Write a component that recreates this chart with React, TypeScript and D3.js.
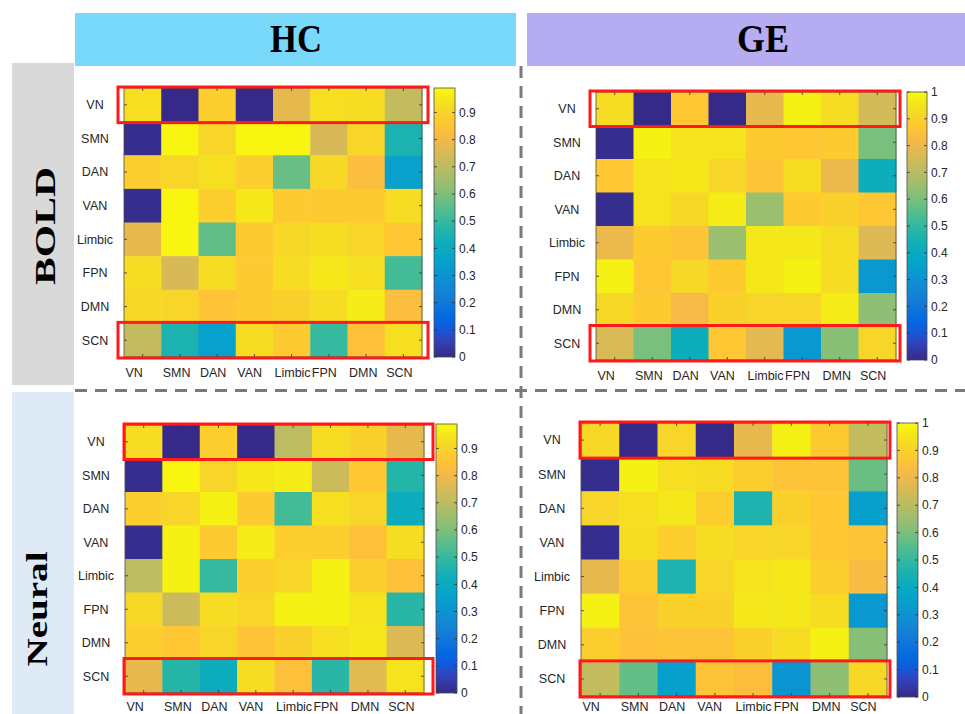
import React from "react";
import * as d3 from "d3";

const networks = ["VN", "SMN", "DAN", "VAN", "Limbic", "FPN", "DMN", "SCN"];
const groups = ["HC", "GE"];
const modalities = ["BOLD", "Neural"];
const ticksHC = [0, 0.1, 0.2, 0.3, 0.4, 0.5, 0.6, 0.7, 0.8, 0.9];
const ticksGE = [0, 0.1, 0.2, 0.3, 0.4, 0.5, 0.6, 0.7, 0.8, 0.9, 1];
const highlightRows = ["VN", "SCN"];

const hcBold = [
  [0.93, 0.0, 0.88, 0.0, 0.78, 0.93, 0.92, 0.71],
  [0.01, 0.98, 0.9, 0.98, 0.98, 0.75, 0.9, 0.45],
  [0.88, 0.9, 0.93, 0.88, 0.57, 0.91, 0.83, 0.35],
  [0.01, 0.98, 0.88, 0.95, 0.87, 0.87, 0.87, 0.92],
  [0.78, 0.98, 0.56, 0.87, 0.91, 0.92, 0.9, 0.86],
  [0.92, 0.75, 0.92, 0.87, 0.92, 0.95, 0.93, 0.52],
  [0.91, 0.9, 0.85, 0.87, 0.89, 0.92, 0.96, 0.83],
  [0.71, 0.45, 0.35, 0.92, 0.87, 0.5, 0.84, 0.93],
];
const geBold = [
  [0.93, 0.0, 0.87, 0.0, 0.79, 0.98, 0.93, 0.75],
  [0.01, 0.98, 0.95, 0.95, 0.88, 0.87, 0.88, 0.6],
  [0.87, 0.95, 0.96, 0.91, 0.86, 0.93, 0.8, 0.42],
  [0.01, 0.95, 0.92, 0.97, 0.65, 0.88, 0.9, 0.87],
  [0.8, 0.88, 0.86, 0.65, 0.96, 0.96, 0.93, 0.77],
  [0.98, 0.87, 0.92, 0.88, 0.96, 0.98, 0.93, 0.32],
  [0.92, 0.88, 0.82, 0.9, 0.91, 0.91, 0.97, 0.63],
  [0.76, 0.6, 0.42, 0.87, 0.78, 0.32, 0.62, 0.91],
];
const hcNeural = [
  [0.92, 0.0, 0.88, 0.0, 0.7, 0.92, 0.89, 0.78],
  [0.01, 0.98, 0.9, 0.95, 0.96, 0.73, 0.86, 0.47],
  [0.88, 0.9, 0.97, 0.87, 0.52, 0.93, 0.9, 0.41],
  [0.01, 0.97, 0.87, 0.96, 0.88, 0.88, 0.84, 0.92],
  [0.7, 0.97, 0.5, 0.88, 0.9, 0.97, 0.88, 0.84],
  [0.91, 0.73, 0.92, 0.9, 0.97, 0.97, 0.94, 0.48],
  [0.88, 0.86, 0.9, 0.85, 0.89, 0.93, 0.95, 0.76],
  [0.78, 0.47, 0.41, 0.92, 0.84, 0.48, 0.77, 0.94],
];
const geNeural = [
  [0.92, 0.0, 0.91, 0.0, 0.79, 0.98, 0.88, 0.72],
  [0.01, 0.98, 0.94, 0.93, 0.89, 0.86, 0.86, 0.58],
  [0.91, 0.94, 0.96, 0.89, 0.46, 0.9, 0.87, 0.35],
  [0.01, 0.93, 0.89, 0.93, 0.91, 0.91, 0.87, 0.86],
  [0.79, 0.89, 0.46, 0.91, 0.95, 0.96, 0.89, 0.83],
  [0.98, 0.86, 0.9, 0.9, 0.96, 0.96, 0.93, 0.32],
  [0.89, 0.85, 0.86, 0.86, 0.9, 0.93, 0.98, 0.62],
  [0.72, 0.57, 0.35, 0.86, 0.84, 0.31, 0.63, 0.92],
];

// parula colormap anchors (index out of 63)
const parulaIdx = [0, 4, 7, 9, 12, 15, 18, 21, 24, 27, 30, 33, 36, 39, 42, 45, 48, 51, 53, 55, 57, 59, 61, 63];
const parulaHex = [
  "#352a87", "#3243ba", "#0f5cdd", "#0268e1", "#0d75dc", "#1481d6", "#108ed2", "#079ccf",
  "#06a7c6", "#0faeb9", "#25b5a9", "#42bb98", "#65be86", "#87bf77", "#a5be6b", "#c0bc60",
  "#d9ba56", "#f1b94a", "#fdbe3d", "#fec832", "#f9d32a", "#f5de21", "#f5eb18", "#f9fb0e",
];
const parula = d3
  .scaleLinear<string>()
  .domain(parulaIdx.map((i) => i / 63))
  .range(parulaHex)
  .interpolate(d3.interpolateRgb)
  .clamp(true);

const panels = [
  { id: "hcb", data: hcBold, gx0: 124, gx1: 422, gy0: 88, gy1: 357, cbx: 434, cbw: 21, cy0: 88, cy1: 357, cmax: 0.99, ticks: ticksHC, padL: 6, padR: 6 },
  { id: "geb", data: geBold, gx0: 596, gx1: 896, gy0: 92, gy1: 360, cbx: 907, cbw: 20, cy0: 92, cy1: 360, cmax: 1, ticks: ticksGE, padL: 6, padR: 4 },
  { id: "hcn", data: hcNeural, gx0: 125, gx1: 424, gy0: 425, gy1: 693, cbx: 436, cbw: 21, cy0: 424, cy1: 693, cmax: 0.99, ticks: ticksHC, padL: 1, padR: 9 },
  { id: "gen", data: geNeural, gx0: 581, gx1: 887, gy0: 423, gy1: 696, cbx: 897, cbw: 21, cy0: 423, cy1: 697, cmax: 1, ticks: ticksGE, padL: 1, padR: 3 },
];

const sans = "'Liberation Sans', Arial, Helvetica, sans-serif";
const serif = "'Liberation Serif', 'Times New Roman', serif";
const fmt = (v: number) => (v === 0 ? "0" : v === 1 ? "1" : v.toFixed(1));

function Heatmap({ p }: { p: (typeof panels)[number] }) {
  const x = d3.scaleBand<string>().domain(networks).range([p.gx0, p.gx1]);
  const y = d3.scaleBand<string>().domain(networks).range([p.gy0, p.gy1]);
  const c = d3.scaleLinear().domain([0, p.cmax]).range([0, 1]).clamp(true);
  const cb = d3.scaleLinear().domain([0, p.cmax]).range([p.cy1, p.cy0]);
  const gradId = "grad-" + p.id;
  const xLabelY = Math.min(p.gy1 + 19.5, 710.5);
  return (
    <g>
      <defs>
        <linearGradient id={gradId} x1="0" y1="1" x2="0" y2="0">
          {parulaIdx.map((i, k) => (
            <stop key={k} offset={i / 63} stopColor={parulaHex[k]} />
          ))}
        </linearGradient>
      </defs>
      {p.data.map((row, ri) =>
        row.map((v, ci) => (
          <rect
            key={ri + "-" + ci}
            x={x(networks[ci])!}
            y={y(networks[ri])!}
            width={x.bandwidth() + 0.5}
            height={y.bandwidth() + 0.5}
            fill={parula(c(v))}
          />
        ))
      )}
      <rect x={p.gx0} y={p.gy0} width={p.gx1 - p.gx0} height={p.gy1 - p.gy0} fill="none" stroke="#4d4d4d" strokeWidth={0.8} />
      {networks.map((n) => (
        <g key={"t" + n} stroke="#333" strokeWidth={0.8}>
          <line x1={x(n)! + x.bandwidth() / 2} x2={x(n)! + x.bandwidth() / 2} y1={p.gy0} y2={p.gy0 + 3} />
          <line x1={x(n)! + x.bandwidth() / 2} x2={x(n)! + x.bandwidth() / 2} y1={p.gy1} y2={p.gy1 - 3} />
          <line x1={p.gx0} x2={p.gx0 + 3} y1={y(n)! + y.bandwidth() / 2} y2={y(n)! + y.bandwidth() / 2} />
          <line x1={p.gx1} x2={p.gx1 - 3} y1={y(n)! + y.bandwidth() / 2} y2={y(n)! + y.bandwidth() / 2} />
        </g>
      ))}
      {networks.map((n) => (
        <text key={"yl" + n} x={p.gx0 - 29} y={y(n)! + y.bandwidth() / 2} dy="0.35em" textAnchor="middle" fontFamily={sans} fontSize={12.5} fill="#262626">
          {n}
        </text>
      ))}
      {networks.map((n) => (
        <text key={"xl" + n} x={x(n)! + 1.5} y={xLabelY} textAnchor="start" fontFamily={sans} fontSize={12.5} fill="#262626">
          {n}
        </text>
      ))}
      {highlightRows.map((n) => (
        <rect
          key={"hl" + n}
          x={p.gx0 - p.padL}
          y={y(n)! - 1}
          width={p.gx1 - p.gx0 + p.padL + p.padR}
          height={y.bandwidth() + 2}
          fill="none"
          stroke="#ff1a1a"
          strokeWidth={3}
        />
      ))}
      <rect x={p.cbx} y={p.cy0} width={p.cbw} height={p.cy1 - p.cy0} fill={`url(#${gradId})`} stroke="#4d4d4d" strokeWidth={0.8} />
      {p.ticks.map((t) => (
        <g key={"cb" + t}>
          <line x1={p.cbx + p.cbw} x2={p.cbx + p.cbw - 3} y1={cb(t)} y2={cb(t)} stroke="#333" strokeWidth={0.8} />
          <line x1={p.cbx} x2={p.cbx + 3} y1={cb(t)} y2={cb(t)} stroke="#333" strokeWidth={0.8} />
          <text x={p.cbx + p.cbw + 4} y={cb(t)} dy="0.35em" fontFamily={sans} fontSize={12} fill="#262626">
            {fmt(t)}
          </text>
        </g>
      ))}
    </g>
  );
}

export default function App() {
  return (
    <svg width={965} height={714} style={{ position: "absolute", left: 0, top: 0, background: "#fff" }}>
      <rect x={0} y={0} width={965} height={714} fill="#ffffff" />
      {/* column headers */}
      <rect x={75} y={13} width={441} height={53} fill="#78d9fb" />
      <rect x={527} y={13} width={438} height={53} fill="#b5acf1" />
      <text x={296} y={52} textAnchor="middle" fontFamily={serif} fontWeight="bold" fontSize={40} textLength={52} lengthAdjust="spacingAndGlyphs" fill="#000">
        {groups[0]}
      </text>
      <text x={763} y={52} textAnchor="middle" fontFamily={serif} fontWeight="bold" fontSize={40} textLength={52} lengthAdjust="spacingAndGlyphs" fill="#000">
        {groups[1]}
      </text>
      {/* row headers */}
      <rect x={12} y={63} width={62} height={322} fill="#d9d9d9" />
      <rect x={12} y={392} width={62} height={322} fill="#deebf7" />
      <text transform="translate(55,226) rotate(-90)" textAnchor="middle" fontFamily={serif} fontWeight="bold" fontSize={30} textLength={118} lengthAdjust="spacingAndGlyphs" fill="#000">
        {modalities[0]}
      </text>
      <text transform="translate(47,609) rotate(-90)" textAnchor="middle" fontFamily={serif} fontWeight="bold" fontSize={30} textLength={115} lengthAdjust="spacingAndGlyphs" fill="#000">
        {modalities[1]}
      </text>
      {/* dividers */}
      <line x1={75} x2={965} y1={390.5} y2={390.5} stroke="#7a7a7a" strokeWidth={3} strokeDasharray="12 8" />
      <line x1={521} x2={521} y1={66} y2={714} stroke="#7a7a7a" strokeWidth={3} strokeDasharray="12 8" />
      {panels.map((p) => (
        <Heatmap key={p.id} p={p} />
      ))}
    </svg>
  );
}
